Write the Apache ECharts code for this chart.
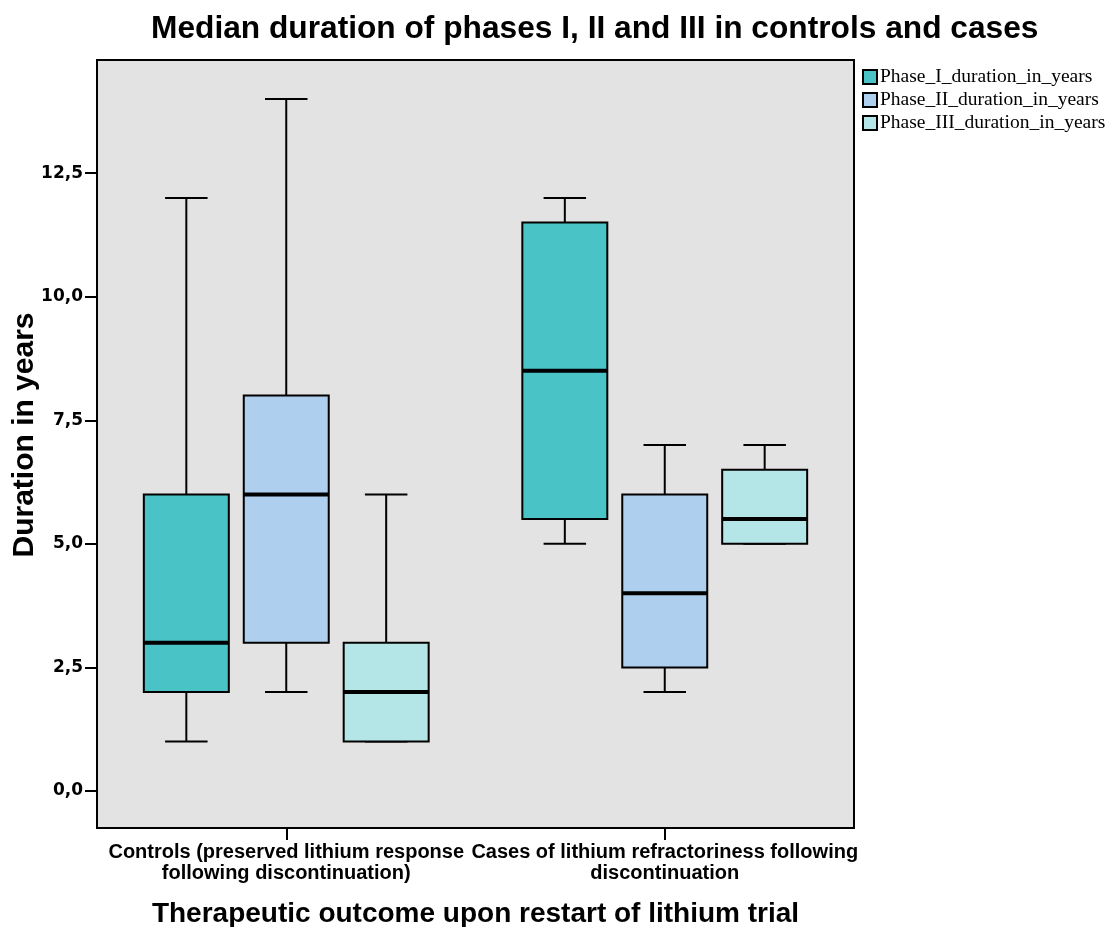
<!DOCTYPE html>
<html>
<head>
<meta charset="utf-8">
<script src="https://cdn.jsdelivr.net/npm/echarts@6/dist/echarts.min.js"></script>
<style>
  html, body { margin: 0; padding: 0; background: #fff; }
  #main { width: 1108px; height: 927px; }
</style>
</head>
<body>
<div id="main"></div>
<script>
// groups on the x axis
var groups = ['Controls (preserved lithium response\nfollowing discontinuation)',
              'Cases of lithium refractoriness following\ndiscontinuation'];
var phaseNames = ['Phase_I_duration_in_years', 'Phase_II_duration_in_years', 'Phase_III_duration_in_years'];
// [min, Q1, median, Q3, max] per group
var phase1 = [[1, 2, 3, 6, 12], [5, 5.5, 8.5, 11.5, 12]];
var phase2 = [[2, 3, 6, 8, 14], [2, 2.5, 4, 6, 7]];
var phase3 = [[1, 1, 2, 3, 6], [5, 5, 5.5, 6.5, 7]];
var yTicks = [0, 2.5, 5, 7.5, 10, 12.5];

var colors = ['#49C3C6', '#AECFEE', '#B4E6E7'];
var allPhases = [phase1, phase2, phase3];

var myChart = echarts.init(document.getElementById('main'));

function boxRenderer(k) {
    return function (params, api) {
        var cat = api.value(0);
        var band = api.size([1, 0])[0];
        var cx = api.coord([cat, 0])[0] + (k - 1) * band * 0.264;
        var w = band * 0.2245;
        var cap = w / 2;
        var y = function (i) { return api.coord([cat, api.value(i)])[1]; };
        var lo = y(1), q1 = y(2), med = y(3), q3 = y(4), hi = y(5);
        var line = { stroke: '#000', lineWidth: 2 };
        return {
            type: 'group',
            children: [
                { type: 'line', shape: { x1: cx, y1: lo, x2: cx, y2: q1 }, style: line },
                { type: 'line', shape: { x1: cx, y1: q3, x2: cx, y2: hi }, style: line },
                { type: 'line', shape: { x1: cx - cap / 2, y1: lo, x2: cx + cap / 2, y2: lo }, style: line },
                { type: 'line', shape: { x1: cx - cap / 2, y1: hi, x2: cx + cap / 2, y2: hi }, style: line },
                { type: 'rect', shape: { x: cx - w / 2, y: q3, width: w, height: q1 - q3 },
                  style: { fill: colors[k], stroke: '#000', lineWidth: 2 } },
                { type: 'line', shape: { x1: cx - w / 2, y1: med, x2: cx + w / 2, y2: med },
                  style: { stroke: '#000', lineWidth: 4 } }
            ]
        };
    };
}

var series = allPhases.map(function (rows, k) {
    return {
        name: phaseNames[k],
        type: 'custom',
        itemStyle: { color: colors[k], borderColor: '#000', borderWidth: 2 },
        encode: { x: 0, y: [1, 2, 3, 4, 5] },
        data: rows.map(function (r, i) { return [i].concat(r); }),
        renderItem: boxRenderer(k)
    };
});

var option = {
    animation: false,
    title: {
        text: 'Median duration of phases I, II and III in controls and cases',
        left: 146, top: 8,
        textStyle: { fontFamily: 'Liberation Sans', fontWeight: 'bold', fontSize: 31.7, color: '#000' }
    },
    legend: {
        orient: 'vertical',
        left: 857, top: 62,
        icon: 'rect',
        itemWidth: 14, itemHeight: 14, itemGap: 3,
        textStyle: { fontFamily: 'Liberation Serif', fontSize: 19.5, color: '#000', padding: [0, 0, 0, -2] },
        data: phaseNames
    },
    grid: {
        left: 97, right: 254, top: 60, bottom: 99,
        outerBoundsMode: 'none',
        containLabel: false,
        show: true, backgroundColor: '#E3E3E3', borderColor: '#000', borderWidth: 2
    },
    xAxis: {
        type: 'category',
        data: groups,
        axisLine: { show: false, onZero: false },
        axisTick: { show: true, alignWithLabel: true, length: 12, lineStyle: { color: '#000', width: 2 } },
        axisLabel: { interval: 0, margin: 14, color: '#000', fontFamily: 'Liberation Sans', fontWeight: 'bold', fontSize: 20, lineHeight: 21 },
        name: 'Therapeutic outcome upon restart of lithium trial',
        nameLocation: 'middle', nameGap: 72,
        nameTextStyle: { fontFamily: 'Liberation Sans', fontWeight: 'bold', fontSize: 28, color: '#000' }
    },
    yAxis: {
        type: 'value',
        min: -0.75, max: 14.79,
        splitLine: { show: false },
        axisLine: { show: false, onZero: false },
        axisTick: { show: true, length: 12, customValues: yTicks, lineStyle: { color: '#000', width: 2 } },
        axisLabel: {
            customValues: yTicks, margin: 14, color: '#000',
            fontFamily: 'DejaVu Sans', fontWeight: 'bold', fontSize: 17,
            formatter: function (v) { return v.toFixed(1).replace('.', ','); }
        },
        name: 'Duration in years',
        nameLocation: 'middle', nameGap: 57,
        nameMoveOverlap: false,
        nameTextStyle: { fontFamily: 'Liberation Sans', fontWeight: 'bold', fontSize: 30, color: '#000', padding: [0, 0, 0, 18] }
    },
    series: series
};

myChart.setOption(option);
</script>
</body>
</html>
